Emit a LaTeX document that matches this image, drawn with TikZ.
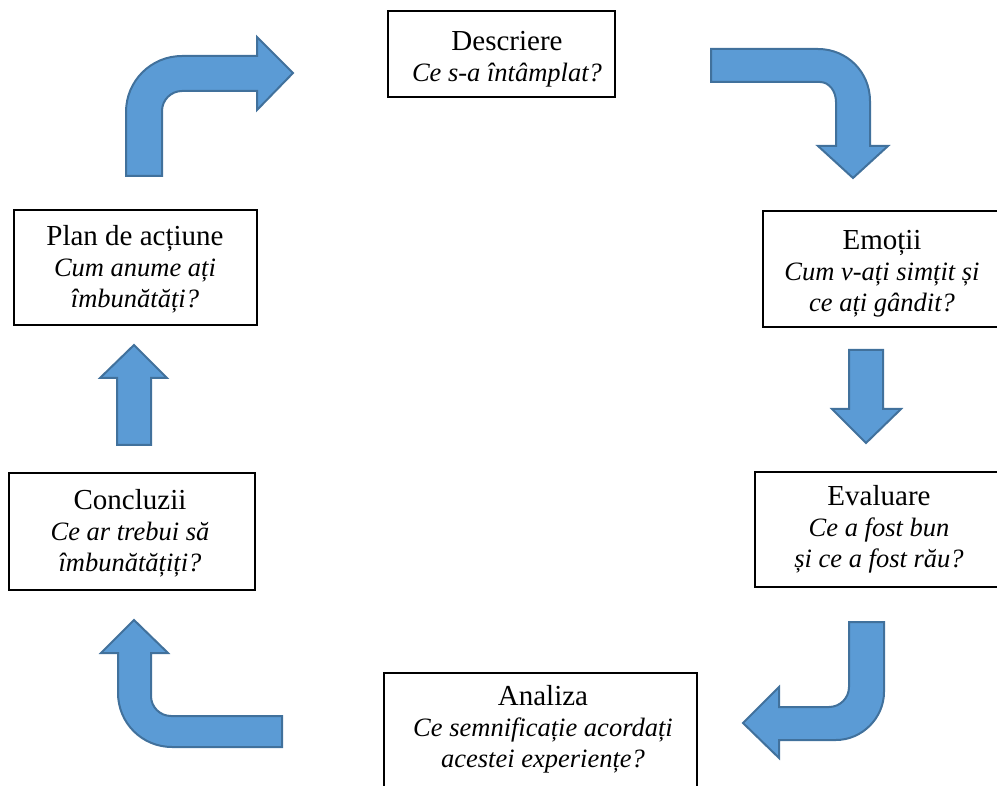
\documentclass[tikz,border=0pt]{standalone}
\usepackage{fontspec}
\setmainfont{Liberation Serif}
\newcommand{\qline}[1]{{\fontsize{26.5}{31}\selectfont\itshape #1}}
\begin{document}
\begin{tikzpicture}[x=1pt,y=-1pt,
  stagebox/.style={draw=black,line width=1.5pt,fill=white},
  stagetext/.style={align=center,anchor=base,inner sep=0pt,
    font=\fontsize{29}{31}\selectfont},
  flow/.style={fill=arrowfill,draw=arrowline,line width=2pt,line join=miter}]
\definecolor{arrowfill}{HTML}{5B9BD5}
\definecolor{arrowline}{HTML}{41719C}
\useasboundingbox (0,0) rectangle (997,786);
\begin{scope}
\clip (0,0) rectangle (997,786);
% stage boxes
\draw[stagebox] (388,11) rectangle (615,97);
\draw[stagebox] (763,211) rectangle (1010,327);
\draw[stagebox] (755,472) rectangle (1012,587);
\draw[stagebox] (384,673) rectangle (697,800);
\draw[stagebox] (9,473) rectangle (255,590);
\draw[stagebox] (14,210) rectangle (257,325);
\end{scope}
% stage labels (anchored on the baseline of the last line)
\node[stagetext] (desc) at (507,82) {Descriere\\\qline{Ce s-a întâmplat?}};
\node[stagetext] (emo) at (882,312) {Emoții\\\qline{Cum v-ați simțit și}\\\qline{ce ați gândit?}};
\node[stagetext] (eval) at (879,567) {Evaluare\\\qline{Ce a fost bun}\\\qline{și ce a fost rău?}};
\node[stagetext] (anal) at (543,767) {Analiza\\\qline{Ce semnificație acordați}\\\qline{acestei experiențe?}};
\node[stagetext] (concl) at (130,571) {Concluzii\\\qline{Ce ar trebui să}\\\qline{îmbunătățiți?}};
\node[stagetext] (plan) at (135,308) {Plan de acțiune\\\qline{Cum anume ați}\\\qline{îmbunătăți?}};
% bent arrow: up, then right
\draw[flow] (126,176) -- (126,112) .. controls (126,81) and (151,56) .. (182,56)
  -- (257,56) -- (257,37) -- (293,73) -- (257,110) -- (257,91) -- (182,91)
  .. controls (171,91) and (162,100) .. (162,111) -- (162,176) -- cycle;
% bent arrow: right, then down
\draw[flow] (711,49) -- (818,49) .. controls (847,49) and (870,72) .. (870,101)
  -- (870,146) -- (888,146) -- (853,178) -- (818,146) -- (836,146) -- (836,102)
  .. controls (836,91) and (829,82) .. (820,82) -- (711,82) -- cycle;
% straight arrow down
\draw[flow] (849,350) -- (883,350) -- (883,409) -- (901,409) -- (866,443)
  -- (832,409) -- (849,409) -- cycle;
% bent arrow: down, then left
\draw[flow] (849,622) -- (884,622) -- (884,692) .. controls (884,718) and (862,740) .. (836,740)
  -- (779,740) -- (779,758) -- (743,723) -- (779,687) -- (779,707) -- (829,707)
  .. controls (840,707) and (849,698) .. (849,687) -- cycle;
% bent arrow: left, then up
\draw[flow] (282,716) -- (282,747) -- (172,747) .. controls (142,747) and (118,723) .. (118,693)
  -- (118,653) -- (101,653) -- (134,620) -- (168,653) -- (151,653) -- (151,696)
  .. controls (151,707) and (160,716) .. (171,716) -- cycle;
% straight arrow up
\draw[flow] (117,445) -- (117,378) -- (100,378) -- (134,345) -- (167,378)
  -- (151,378) -- (151,445) -- cycle;
\end{tikzpicture}
\end{document}
